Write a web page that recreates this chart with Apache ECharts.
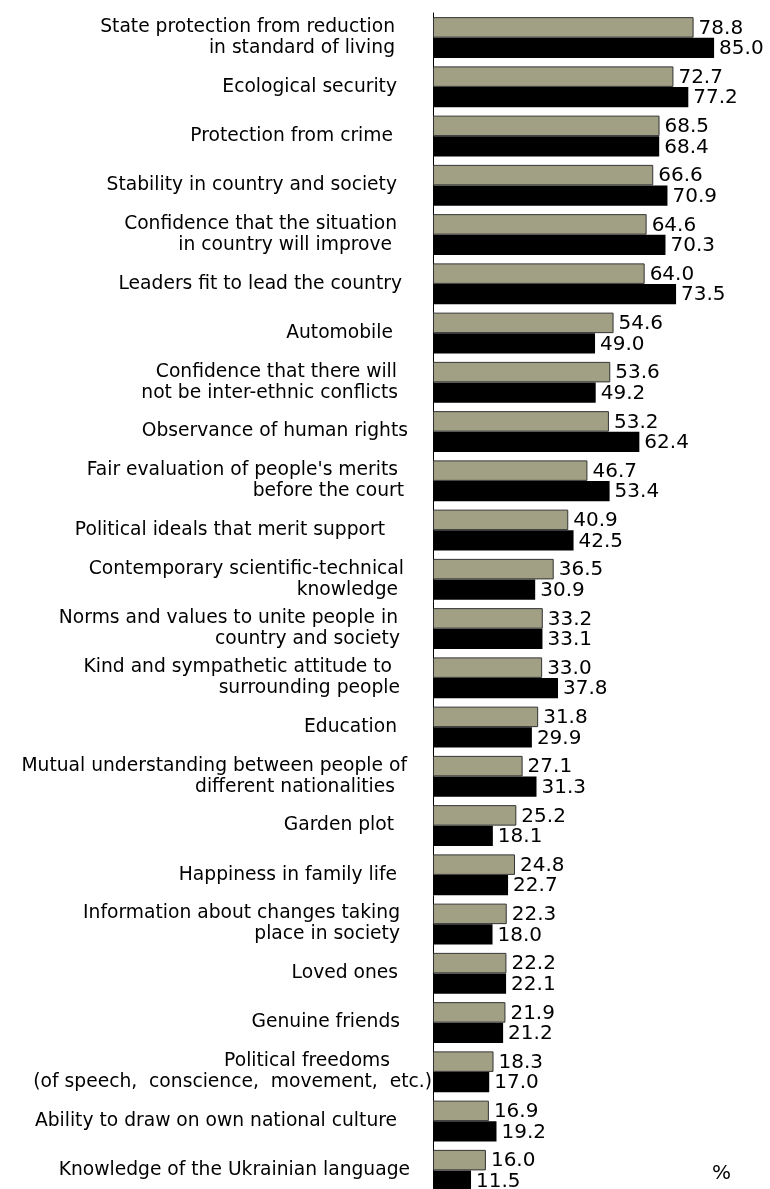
<!DOCTYPE html>
<html>
<head>
<meta charset="utf-8">
<script src="https://cdn.jsdelivr.net/npm/echarts@6/dist/echarts.min.js"></script>
<style>
html,body{margin:0;padding:0;background:#fff;}
#chart{width:770px;height:1189px;}
</style>
</head>
<body>
<div id="chart"></div>
<script>
const categories = [
  "State protection from reduction\nin standard of living",
  "Ecological security",
  "Protection from crime",
  "Stability in country and society",
  "Confidence that the situation\nin country will improve",
  "Leaders fit to lead the country",
  "Automobile",
  "Confidence that there will\nnot be inter-ethnic conflicts",
  "Observance of human rights",
  "Fair evaluation of people's merits\nbefore the court",
  "Political ideals that merit support",
  "Contemporary scientific-technical\nknowledge",
  "Norms and values to unite people in\ncountry and society",
  "Kind and sympathetic attitude to\nsurrounding people",
  "Education",
  "Mutual understanding between people of\ndifferent nationalities",
  "Garden plot",
  "Happiness in family life",
  "Information about changes taking\nplace in society",
  "Loved ones",
  "Genuine friends",
  "Political freedoms\n(of speech,  conscience,  movement,  etc.)",
  "Ability to draw on own national culture",
  "Knowledge of the Ukrainian language"
];
const seriesA = [78.8, 72.7, 68.5, 66.6, 64.6, 64.0, 54.6, 53.6, 53.2, 46.7, 40.9, 36.5, 33.2, 33.0, 31.8, 27.1, 25.2, 24.8, 22.3, 22.2, 21.9, 18.3, 16.9, 16.0];
const seriesB = [85.0, 77.2, 68.4, 70.9, 70.3, 73.5, 49.0, 49.2, 62.4, 53.4, 42.5, 30.9, 33.1, 37.8, 29.9, 31.3, 18.1, 22.7, 18.0, 22.1, 21.2, 17.0, 19.2, 11.5];
const unitLabel = "%";

// layout: right edge (px) of each label line, as in the reference
const lineRightEdges = [[395,395],[397],[393],[397],[397,392],[402],[393],[397,398],[408],[398,404],[385],[404,398],[398,400],[392,400],[397],[407,395],[394],[397],[400,400],[398],[400],[390,432],[397],[410]];
const AXIS_X = 433;
const LABEL_MARGIN = 1;

const FONT = "DejaVu Sans";
const rich = {};
lineRightEdges.forEach(lines => lines.forEach(e => {
  const p = Math.max(0, AXIS_X - LABEL_MARGIN - e);
  rich['p' + p] = {padding: [0, p, 0, 0], fontFamily: FONT, fontSize: 18.7, lineHeight: 21, color: '#000'};
}));

const chart = echarts.init(document.getElementById('chart'), null, {renderer: 'canvas'});
chart.setOption({
  animation: false,
  backgroundColor: '#fff',
  grid: {left: AXIS_X, top: 13, width: 330.7, height: 1182, containLabel: false, outerBoundsMode: 'none'},
  xAxis: {type: 'value', min: 0, max: 100, show: false, splitLine: {show: false}},
  yAxis: {
    type: 'category', inverse: true, data: categories,
    axisLine: {show: true, lineStyle: {color: '#000', width: 1}},
    axisTick: {show: false},
    splitLine: {show: false},
    axisLabel: {
      interval: 0, margin: LABEL_MARGIN, align: 'right',
      fontFamily: FONT, fontSize: 18.7, lineHeight: 21, color: '#000',
      formatter: function (value, idx) {
        const lines = value.split('\n');
        const edges = lineRightEdges[idx] || [];
        return lines.map((l, i) => {
          const e = edges[i] !== undefined ? edges[i] : edges[0];
          const p = Math.max(0, AXIS_X - LABEL_MARGIN - e);
          return '{p' + p + '|' + l + '}';
        }).join('\n');
      },
      rich: rich
    }
  },
  series: [
    {
      type: 'bar', data: seriesA, barGap: '0%', barCategoryGap: '16.8%',
      itemStyle: {color: '#a19f84', borderColor: '#333', borderWidth: 1},
      label: {show: true, position: 'right', distance: 5, offset: [0, 1], fontFamily: FONT, fontSize: 20, color: '#000',
        formatter: p => p.value.toFixed(1)}
    },
    {
      type: 'bar', data: seriesB, barGap: '0%', barCategoryGap: '16.8%',
      itemStyle: {color: '#000'},
      label: {show: true, position: 'right', distance: 5, offset: [0, 1], fontFamily: FONT, fontSize: 20, color: '#000',
        formatter: p => p.value.toFixed(1)}
    }
  ],
  graphic: [{
    type: 'text', left: 712, top: 1164,
    style: {text: unitLabel, font: '20px "DejaVu Sans"', fill: '#000'}
  }]
});
</script>
</body>
</html>
